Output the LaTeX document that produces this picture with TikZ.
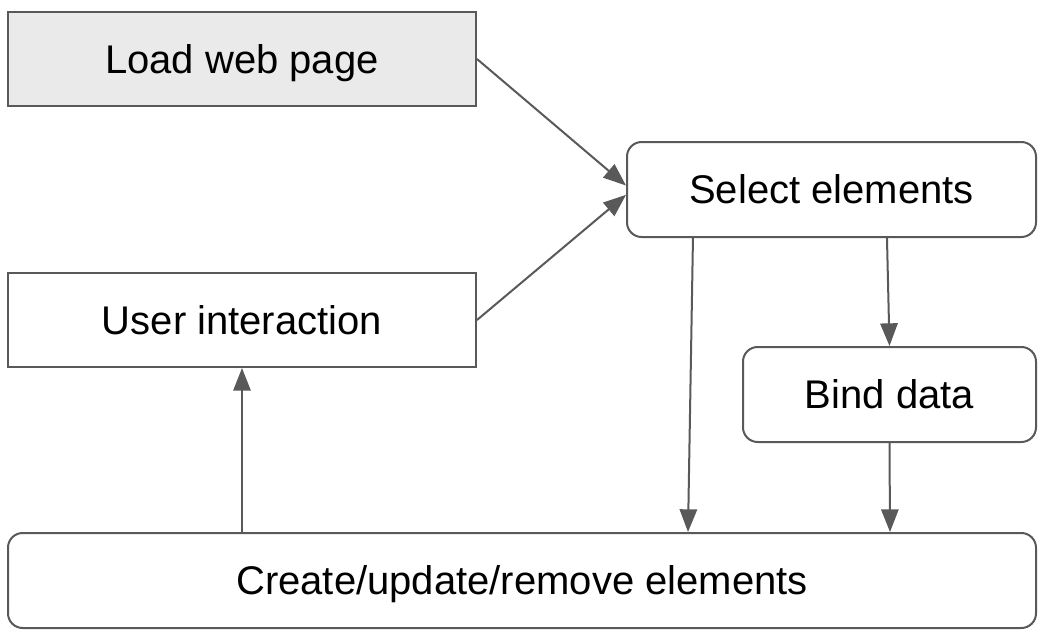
\documentclass[tikz,border=0pt]{standalone}
\usepackage{fontspec}
\setmainfont{Liberation Sans}
\usetikzlibrary{arrows.meta}
\definecolor{edge}{HTML}{595959}
\definecolor{lightfill}{HTML}{EAEAEA}
\begin{document}
\begin{tikzpicture}[x=0.75pt,y=-0.75pt,
  box/.style={draw=edge,line width=1.5pt,inner sep=0pt,font=\fontsize{30}{36}\selectfont,text=black,text height=21.5pt,text depth=0pt},
  sqbox/.style={box},
  rbox/.style={box,rounded corners=11pt},
  conn/.style={draw=edge,line width=1.5pt,-{Triangle[length=17pt,width=13pt]}}]
\useasboundingbox (0,0) rectangle (1046,636);
\node[sqbox,fill=lightfill,minimum width=351pt,minimum height=70.5pt] (load) at (242,59) {Load web page};
\node[sqbox,minimum width=351pt,minimum height=70.5pt] (user) at (242,320) {User interaction};
\node[rbox,minimum width=306.75pt,minimum height=71.25pt] (sel) at (831.5,189.5) {Select elements};
\node[rbox,minimum width=219.75pt,minimum height=71.25pt] (bind) at (889.5,394.5) {Bind data};
\node[rbox,minimum width=771pt,minimum height=71.25pt] (cr) at (522,580.5) {Create/update/remove elements};
\draw[conn] (load.east) -- ([yshift=3pt]sel.west);
\draw[conn] (user.east) -- ([yshift=-4pt]sel.west);
\draw[conn] ([xshift=41.6pt]sel.south) -- (bind.north);
\draw[conn] ([xshift=-103.9pt]sel.south) -- ([xshift=124.5pt]cr.north);
\draw[conn] (bind.south) -- ([xshift=276pt]cr.north);
\draw[conn] ([xshift=-210pt]cr.north) -- (user.south);
\end{tikzpicture}
\end{document}
